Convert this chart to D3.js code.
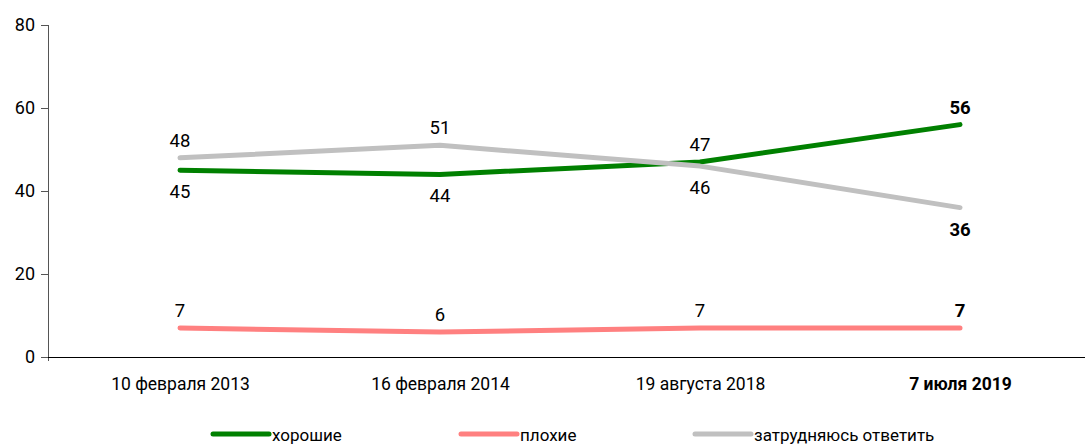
<!DOCTYPE html>
<html>
<head>
<meta charset="utf-8">
<script src="https://cdn.jsdelivr.net/npm/d3@7"></script>
<style>
  body { margin: 0; background: #fff; }
  text { font-family: Roboto, "Open Sans", sans-serif; fill: #000; }
</style>
</head>
<body>
<svg id="chart" width="1086" height="445"></svg>
<script>
const categories = ["10 февраля 2013", "16 февраля 2014", "19 августа 2018", "7 июля 2019"]
const good = [45, 44, 47, 56]
const bad = [7, 6, 7, 7]
const unsure = [48, 51, 46, 36]
const yTicks = [0, 20, 40, 60, 80]

// label side per point: -1 above, 1 below
const series = [
  {name: "хорошие", values: good, color: "#008000", side: [1, 1, -1, -1]},
  {name: "плохие", values: bad, color: "#ff8080", side: [-1, -1, -1, -1]},
  {name: "затрудняюсь ответить", values: unsure, color: "#c0c0c0", side: [-1, -1, 1, 1]}
]

const svg = d3.select("#chart")
const plotLeft = 48, plotRight = 1085, plotTop = 25, plotBottom = 357

const x = d3.scalePoint().domain(categories).range([50, 1090]).padding(0.5)
const y = d3.scaleLinear().domain([0, 80]).range([plotBottom, plotTop])

// y axis
const yAxis = svg.append("g")
  .attr("transform", "translate(" + plotLeft + ",0)")
  .call(d3.axisLeft(y).tickValues(yTicks).tickSize(7).tickPadding(6).tickSizeOuter(0))
yAxis.select(".domain").attr("stroke", "#555").attr("d", "M0.5," + plotTop + "V" + (plotBottom + 4))
yAxis.selectAll(".tick line").attr("stroke", "#555")
yAxis.selectAll("text").style("font-size", "18px").attr("fill", "#000")

// x axis
const xAxis = svg.append("g")
  .attr("transform", "translate(0," + plotBottom + ")")
  .call(d3.axisBottom(x).tickSize(0).tickPadding(21))
xAxis.select(".domain").attr("stroke", "#000").attr("d", "M" + plotLeft + ",0.5H" + plotRight)
xAxis.selectAll("text")
  .style("font-size", "17.5px")
  .attr("fill", "#000")
  .style("font-weight", (d, i) => i === categories.length - 1 ? "bold" : "normal")

const line = d3.line()
  .x((d, i) => x(categories[i]))
  .y(d => y(d))

series.forEach(s => {
  svg.append("path")
    .datum(s.values)
    .attr("d", line)
    .attr("fill", "none")
    .attr("stroke", s.color)
    .attr("stroke-width", 5)
    .attr("stroke-linecap", "round")
    .attr("stroke-linejoin", "round")

  svg.selectAll(null)
    .data(s.values)
    .enter().append("text")
    .attr("x", (d, i) => x(categories[i]))
    .attr("y", (d, i) => y(d) + (s.side[i] < 0 ? -11 : 28))
    .attr("text-anchor", "middle")
    .style("font-size", "18.5px")
    .style("font-weight", (d, i) => i === categories.length - 1 ? "bold" : "normal")
    .text(d => d)
})

// legend
const legendX = [213, 461, 695]
const legend = svg.append("g")
series.forEach((s, i) => {
  legend.append("line")
    .attr("x1", legendX[i]).attr("x2", legendX[i] + 56)
    .attr("y1", 434).attr("y2", 434)
    .attr("stroke", s.color)
    .attr("stroke-width", 5)
    .attr("stroke-linecap", "round")
  legend.append("text")
    .attr("x", legendX[i] + 59)
    .attr("y", 441)
    .style("font-size", "17px")
    .text(s.name)
})
</script>
</body>
</html>
